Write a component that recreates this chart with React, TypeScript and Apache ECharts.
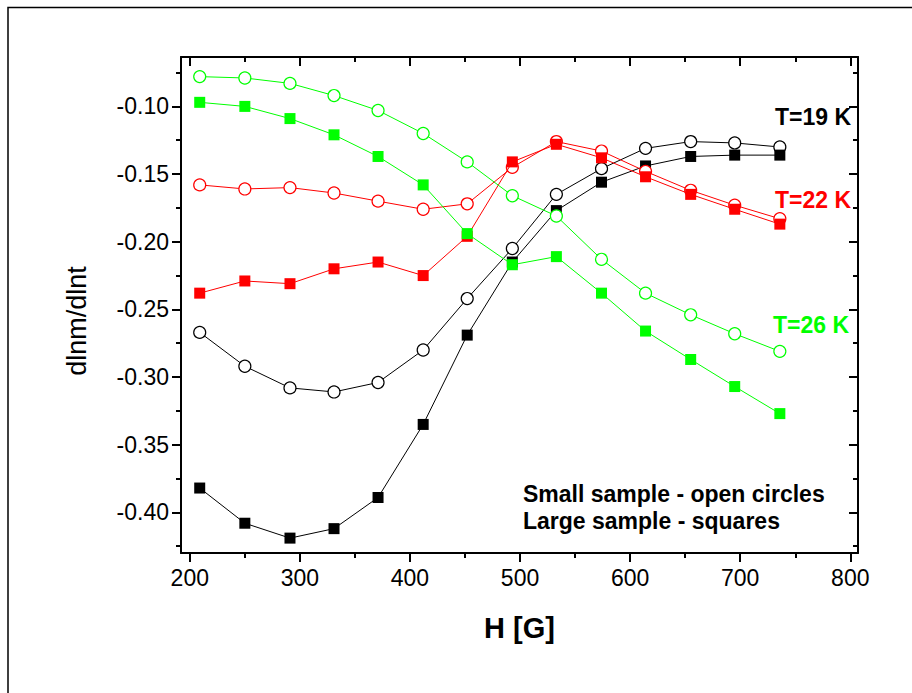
import React, { useEffect, useRef } from "react";
import * as echarts from "echarts";

const H = [209, 250, 291, 331, 371, 412, 452, 493, 533, 574, 614, 655, 695, 736];
const T19Small = [-0.267, -0.292, -0.308, -0.311, -0.304, -0.280, -0.242, -0.205, -0.165, -0.146, -0.131, -0.126, -0.127, -0.130];
const T19Large = [-0.382, -0.408, -0.419, -0.412, -0.389, -0.335, -0.269, -0.215, -0.177, -0.156, -0.144, -0.137, -0.136, -0.136];
const T22Small = [-0.158, -0.161, -0.160, -0.164, -0.170, -0.176, -0.172, -0.145, -0.126, -0.133, -0.148, -0.162, -0.173, -0.183];
const T22Large = [-0.238, -0.229, -0.231, -0.220, -0.215, -0.225, -0.196, -0.141, -0.128, -0.138, -0.152, -0.165, -0.176, -0.187];
const T26Small = [-0.078, -0.079, -0.083, -0.092, -0.103, -0.120, -0.141, -0.166, -0.181, -0.213, -0.238, -0.254, -0.268, -0.281];
const T26Large = [-0.097, -0.100, -0.109, -0.121, -0.137, -0.158, -0.194, -0.217, -0.211, -0.238, -0.266, -0.287, -0.307, -0.327];

const xMajor = [200, 300, 400, 500, 600, 700, 800];
const xMinor = [250, 350, 450, 550, 650, 750];
const yMajor = [-0.10, -0.15, -0.20, -0.25, -0.30, -0.35, -0.40];
const yMinor = [-0.075, -0.125, -0.175, -0.225, -0.275, -0.325, -0.375, -0.425];

const X_MIN = 192;
const X_MAX = 807;
const Y_MIN = -0.43;
const Y_MAX = -0.0635;

const FONT = "'Liberation Sans', Arial, sans-serif";
const BLACK = "#000000";
const RED = "#ff0000";
const GREEN = "#00ff00";

function axisCommon(min: number, max: number) {
  return { type: "value" as const, min, max, splitLine: { show: false } };
}

export default function App() {
  const ref = useRef<HTMLDivElement>(null);
  useEffect(() => {
    document.body.style.margin = "0";
    if (!ref.current) return;
    const chart = echarts.init(ref.current, null, { renderer: "svg" });

    const lineAxis = { show: true, lineStyle: { color: BLACK, width: 2 } };
    const noLine = { show: false };

    const xAxes: any[] = [
      {
        ...axisCommon(X_MIN, X_MAX),
        position: "bottom",
        axisLine: lineAxis,
        axisTick: { show: true, inside: false, length: 9, customValues: xMajor, lineStyle: { color: BLACK, width: 2 } },
        axisLabel: { show: true, customValues: xMajor, margin: 13, fontSize: 23, color: BLACK, fontFamily: FONT },
        name: "H [G]",
        nameLocation: "middle",
        nameGap: 60,
        nameTextStyle: { fontSize: 29, fontWeight: "bold", color: BLACK, fontFamily: FONT },
      },
      {
        ...axisCommon(X_MIN, X_MAX),
        position: "bottom",
        axisLine: noLine,
        axisTick: { show: true, inside: false, length: 5, customValues: xMinor, lineStyle: { color: BLACK, width: 2 } },
        axisLabel: { show: false, customValues: xMinor },
      },
      {
        ...axisCommon(X_MIN, X_MAX),
        position: "top",
        axisLine: lineAxis,
        axisTick: { show: true, inside: true, length: 9, customValues: xMajor, lineStyle: { color: BLACK, width: 2 } },
        axisLabel: { show: false, customValues: xMajor },
      },
      {
        ...axisCommon(X_MIN, X_MAX),
        position: "top",
        axisLine: noLine,
        axisTick: { show: true, inside: true, length: 5, customValues: xMinor, lineStyle: { color: BLACK, width: 2 } },
        axisLabel: { show: false, customValues: xMinor },
      },
    ];

    const yAxes: any[] = [
      {
        ...axisCommon(Y_MIN, Y_MAX),
        position: "left",
        axisLine: lineAxis,
        axisTick: { show: true, inside: false, length: 9, customValues: yMajor, lineStyle: { color: BLACK, width: 2 } },
        axisLabel: {
          show: true,
          customValues: yMajor,
          margin: 12,
          fontSize: 23,
          color: BLACK,
          fontFamily: FONT,
          formatter: (v: number) => v.toFixed(2),
        },
      },
      {
        ...axisCommon(Y_MIN, Y_MAX),
        position: "left",
        axisLine: noLine,
        axisTick: { show: true, inside: false, length: 5, customValues: yMinor, lineStyle: { color: BLACK, width: 2 } },
        axisLabel: { show: false, customValues: yMinor },
      },
      {
        ...axisCommon(Y_MIN, Y_MAX),
        position: "right",
        axisLine: lineAxis,
        axisTick: { show: true, inside: true, length: 9, customValues: yMajor, lineStyle: { color: BLACK, width: 2 } },
        axisLabel: { show: false, customValues: yMajor },
      },
      {
        ...axisCommon(Y_MIN, Y_MAX),
        position: "right",
        axisLine: noLine,
        axisTick: { show: true, inside: true, length: 5, customValues: yMinor, lineStyle: { color: BLACK, width: 2 } },
        axisLabel: { show: false, customValues: yMinor },
      },
    ];

    const mk = (name: string, vals: number[], color: string, square: boolean, z: number) => ({
      type: "line",
      name,
      data: H.map((h, i) => [h, vals[i]]),
      xAxisIndex: 0,
      yAxisIndex: 0,
      symbol: square ? "rect" : "circle",
      symbolSize: square ? 11 : 12,
      showAllSymbol: true,
      lineStyle: { color, width: 1 },
      itemStyle: square
        ? { color, borderWidth: 0 }
        : { color: "#ffffff", borderColor: color, borderWidth: 1.2 },
      z,
      emphasis: { disabled: true },
    });

    const series = [
      mk("T=19 K small", T19Small, BLACK, false, 2),
      mk("T=19 K large", T19Large, BLACK, true, 3),
      mk("T=22 K small", T22Small, RED, false, 4),
      mk("T=22 K large", T22Large, RED, true, 5),
      mk("T=26 K small", T26Small, GREEN, false, 6),
      mk("T=26 K large", T26Large, GREEN, true, 7),
    ];

    const txt = (text: string, x: number, y: number, color: string, bold = true, size = 23) => ({
      type: "text",
      x,
      y,
      style: {
        text,
        fill: color,
        font: `${bold ? "bold " : ""}${size}px ${FONT}`,
        align: "left",
        verticalAlign: "middle",
      },
      z: 10,
    });

    chart.setOption({
      animation: false,
      backgroundColor: "#ffffff",
      grid: { left: 181, right: 54, top: 57, bottom: 140, containLabel: false },
      xAxis: xAxes,
      yAxis: yAxes,
      series,
      graphic: [
        {
          type: "rect",
          shape: { x: 8, y: 7.5, width: 1200, height: 1200 },
          style: { fill: "none", stroke: BLACK, lineWidth: 1.5 },
          silent: true,
          z: 0,
        },
        {
          type: "text",
          x: 77,
          y: 321,
          rotation: Math.PI / 2,
          style: {
            text: "dlnm/dlnt",
            fill: BLACK,
            font: `27px ${FONT}`,
            align: "center",
            verticalAlign: "middle",
          },
        },
        txt("T=19 K", 775, 117, BLACK),
        txt("T=22 K", 775, 200, RED),
        txt("T=26 K", 773, 325, GREEN),
        txt("Small sample - open circles", 523, 494, BLACK),
        txt("Large sample - squares", 523, 521, BLACK),
      ],
    });

    return () => chart.dispose();
  }, []);

  return <div ref={ref} style={{ width: 912, height: 693 }} />;
}
